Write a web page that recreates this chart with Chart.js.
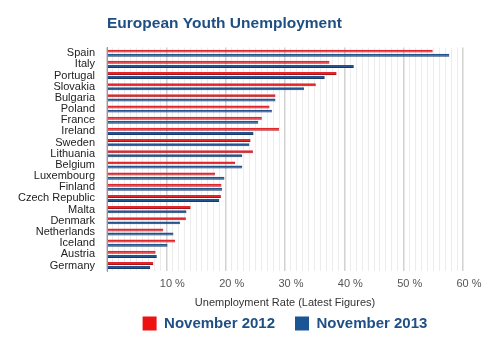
<!DOCTYPE html>
<html>
<head>
<meta charset="utf-8">
<script src="https://cdn.jsdelivr.net/npm/chart.js@4"></script>
<style>
  html, body { margin: 0; padding: 0; background: #fff; }
  #wrap { width: 500px; height: 344px; }
</style>
</head>
<body>
<div id="wrap"><canvas id="myChart" width="500" height="344"></canvas></div>
<script>
// values
const countries = ['Spain', 'Italy', 'Portugal', 'Slovakia', 'Bulgaria', 'Poland', 'France', 'Ireland',
  'Sweden', 'Lithuania', 'Belgium', 'Luxembourg', 'Finland', 'Czech Republic', 'Malta', 'Denmark',
  'Netherlands', 'Iceland', 'Austria', 'Germany'];
const nov2012 = [54.9, 37.5, 38.7, 35.2, 28.4, 27.4, 26.1, 29.0, 24.2, 24.6, 21.6, 18.2, 19.3, 19.2, 14.1, 13.3, 9.5, 11.5, 8.2, 7.8];
const nov2013 = [57.7, 41.6, 36.7, 33.2, 28.4, 27.8, 25.5, 24.7, 24.0, 22.8, 22.8, 19.8, 19.4, 18.9, 13.4, 12.3, 11.2, 10.2, 8.4, 7.3];
const seriesNames = ['November 2012', 'November 2013'];
const xMax = 60;

const font = '"Liberation Sans", Arial, sans-serif';

// legend padding also sets the gap between items; take the extra
// top space back so the legend sits close under the axis title
const legendGap = 20;
const legendTop = 4;
const legendTrim = {
  id: 'legendTrim',
  beforeLayout(chart) {
    const lg = chart.legend;
    if (lg && !lg._trimmed) {
      const fit = lg.fit.bind(lg);
      lg.fit = function () { fit(); this.height -= (legendGap - legendTop); };
      lg._trimmed = true;
    }
  },
  afterLayout(chart) {
    const lg = chart.legend;
    lg.top -= legendGap - legendTop + 2;
    lg.bottom = chart.height; // keep the clip box big enough
  },
};

var ctx = document.getElementById('myChart').getContext('2d');
var myChart = new Chart(ctx, {
  type: 'bar',
  data: {
    labels: countries,
    datasets: [{
      label: seriesNames[0],
      data: nov2012,
      backgroundColor: '#e3262c',
      borderColor: '#a81418',
      borderWidth: { top: 0, left: 0, right: 0, bottom: 1 },
      borderSkipped: false,
    }, {
      label: seriesNames[1],
      data: nov2013,
      backgroundColor: '#24548f',
      borderColor: '#163a68',
      borderWidth: { top: 0, left: 0, right: 0, bottom: 1 },
      borderSkipped: false,
    }]
  },
  options: {
    indexAxis: 'y',
    responsive: false,
    animation: false,
    datasets: { bar: { categoryPercentage: 0.74, barPercentage: 0.72 } },
    layout: { padding: { left: 0, right: 37, top: 0, bottom: 1 } },
    plugins: {
      tooltip: { enabled: false },
      title: {
        display: true,
        text: 'European Youth Unemployment',
        align: 'start',
        fullSize: false,
        color: '#1f4f82',
        font: { family: font, size: 15.5, weight: 'bold' },
        padding: { top: 14, bottom: 15 },
      },
      legend: {
        position: 'bottom',
        fullSize: false,
        labels: {
          boxWidth: 14,
          boxHeight: 14,
          padding: legendGap,
          color: '#1f4f86',
          font: { family: font, size: 15, weight: 'bold' },
          generateLabels: (chart) => chart.data.datasets.map((ds, i) => ({
            text: ds.label,
            fillStyle: i === 0 ? '#ee1111' : '#1c5596',
            strokeStyle: i === 0 ? '#ee1111' : '#1c5596',
            lineWidth: 0,
            fontColor: '#1f4f86',
            datasetIndex: i,
          })),
        },
      },
    },
    scales: {
      x: {
        min: 0,
        max: xMax,
        grid: {
          drawTicks: false,
          color: (c) => (c.tick && c.tick.value % 10 === 0) ? '#d2d2d2' : '#ececec',
          lineWidth: (c) => (c.tick && c.tick.value % 10 === 0) ? 1.5 : 1,
        },
        border: { display: false },
        ticks: {
          stepSize: 1,
          autoSkip: false,
          maxRotation: 0,
          padding: 6,
          labelOffset: 6,
          color: '#555',
          font: { family: font, size: 11 },
          callback: (v) => (v > 0 && v % 10 === 0) ? v + ' %' : '',
        },
        title: {
          display: true,
          text: 'Unemployment Rate (Latest Figures)',
          color: '#333',
          font: { family: font, size: 11 },
          padding: { top: 0.5, bottom: 4 },
        },
      },
      y: {
        grid: { display: false, drawTicks: false },
        border: { display: true, color: '#9a9a9a', width: 1 },
        ticks: {
          padding: 12,
          color: '#222',
          font: { family: font, size: 11 },
          autoSkip: false,
        },
        afterFit: (scale) => { scale.width = 107; },
      },
    },
  },
  plugins: [legendTrim],
});
</script>
</body>
</html>
